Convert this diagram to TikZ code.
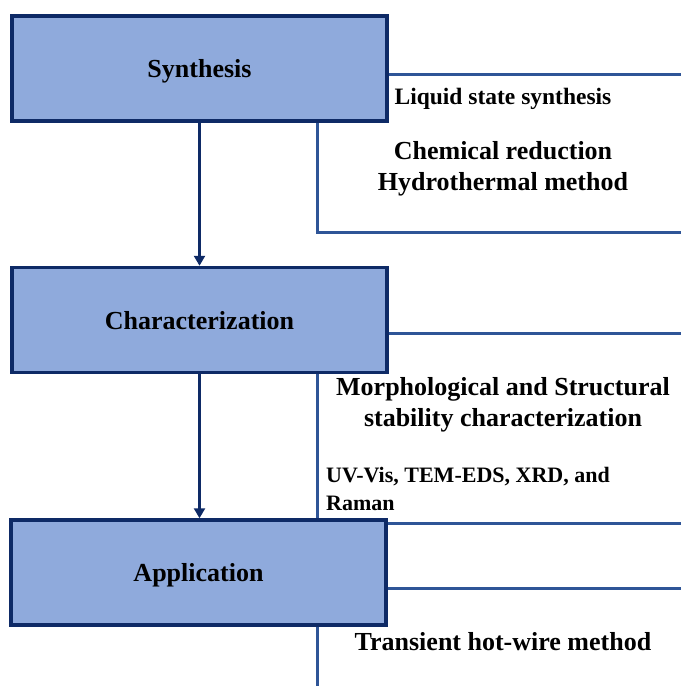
\documentclass[tikz,border=0pt]{standalone}
\usepackage{fontspec}
\setmainfont{Liberation Serif}
\usetikzlibrary{calc, arrows.meta}
\definecolor{stepfill}{HTML}{8FAADC}
\definecolor{stepdraw}{HTML}{0E2A66}
\definecolor{branchblue}{HTML}{2F5597}
\begin{document}
\begin{tikzpicture}[x=1pt, y=-1pt,
    stagebox/.style={rectangle, minimum width=375pt, minimum height=105pt, text height=24pt, text depth=6pt, draw=stepdraw, line width=3.5pt, fill=stepfill, font=\fontsize{26}{31}\selectfont\bfseries},
    branch/.style={draw=branchblue, line width=3pt},
    flow/.style={draw=stepdraw, line width=3.5pt, -{Triangle[length=10pt, width=11pt]}},
    note/.style={font=\fontsize{26}{31}\selectfont\bfseries, align=center, inner sep=0pt}]
    \useasboundingbox (0,0) rectangle (681,686);
    \node[stagebox] (syn) at (199.5,68.5) {Synthesis}; % stage boxes
    \node[stagebox] (cha) at (199.5,320) {Characterization};
    \node[stagebox] (app) at (198.5,572.5) {Application};
    \draw[flow] (syn.south) -- (cha.north);
    \draw[flow] (cha.south) -- (cha.south |- app.north);
    % right hand brackets
    \coordinate (synA) at (681,74);
    \coordinate (synV) at (317,232);
    \coordinate (synB) at (681,232);
    \draw[branch] (syn.east |- synA) -- (synA);
    \draw[branch] (syn.south -| synV) -- (synV) -- (synB);
    \coordinate (chaA) at (681,333);
    \coordinate (chaV) at (317,0);
    \coordinate (chaB) at (681,523);
    \draw[branch] (cha.east |- chaA) -- (chaA);
    \draw[branch] (cha.south -| chaV) -- (app.north -| chaV);
    \draw[branch] (app.east |- chaB) -- (chaB);
    \coordinate (appA) at (681,588);
    \coordinate (appV) at (317,686);
    \draw[branch] (app.east |- appA) -- (appA);
    \draw[branch] (app.south -| appV) -- (appV);
    % texts
    \node[note, font=\fontsize{23.5}{28}\selectfont\bfseries] (liquid) at (503,99) {Liquid state synthesis};
    \node[note] (chem) at (503,169) {Chemical reduction\\Hydrothermal method};
    \node[note] (morph) at (503,405) {Morphological and Structural\\stability characterization};
    \node[note, font=\fontsize{22}{28}\selectfont\bfseries, align=left, anchor=west] (uvvis) at (326,489) {UV-Vis, TEM-EDS, XRD, and\\Raman};
    \node[note] (hotwire) at (503,642) {Transient hot-wire method};
\end{tikzpicture}
\end{document}
